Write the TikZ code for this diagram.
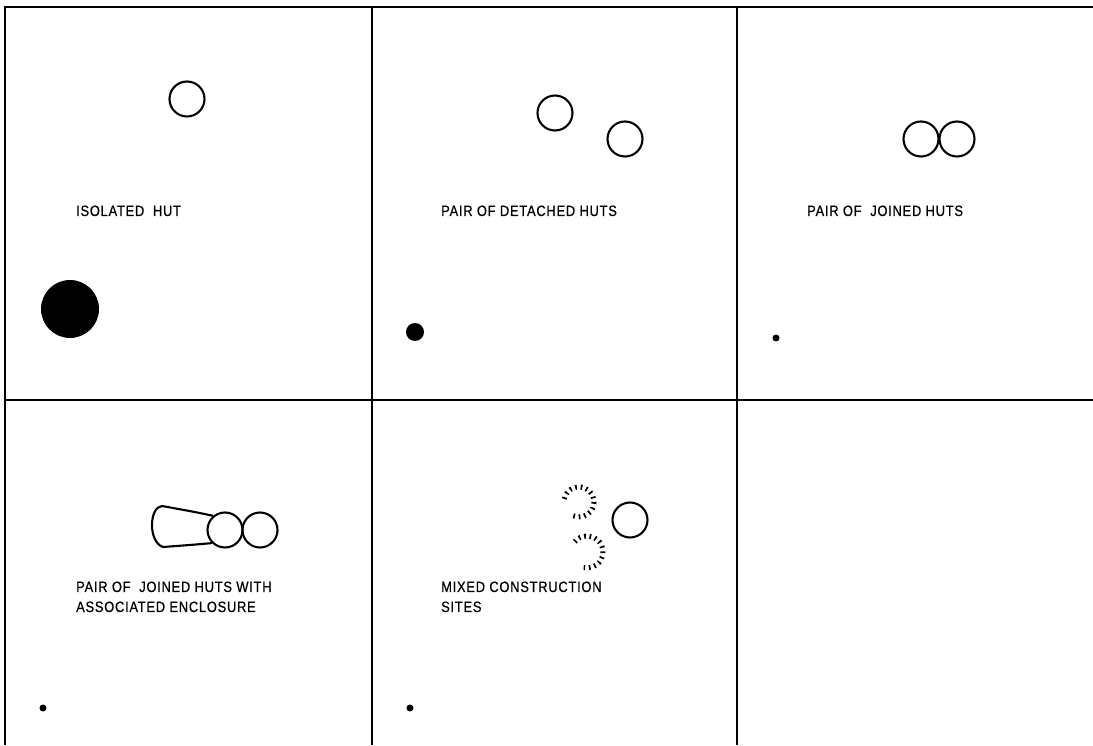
\documentclass[tikz,border=0pt]{standalone}
\usepackage{fontspec}
\setmainfont{Liberation Sans}
\newfontfamily\labelfont[LetterSpace=5,FakeStretch=0.86,FakeBold=0.6]{Liberation Sans}
\usetikzlibrary{calc}

\begin{document}
\begin{tikzpicture}[x=1pt,y=1pt,
frame/.style={line width=2.7pt,draw=black},
hut/.style={circle,draw=black,line width=2.1pt,minimum size=35pt,inner sep=0pt},
joined/.style={draw=black,line width=2.1pt},
spot/.style={circle,fill=black,inner sep=0pt,minimum size=#1},
site/.style={draw=black,line width=5pt,dash pattern=on 1.7pt off 3.8pt},
caption/.style={anchor=base west,align=left,inner sep=0pt,font=\labelfont\fontsize{15}{20}\selectfont}]
\useasboundingbox (0,0) rectangle (1093,745);
% panel grid, open at right and bottom
\coordinate (tl) at (5,738);
\coordinate (bl) at (5,0);
\coordinate (tr) at (1093,738);
\coordinate (ml) at (5,345);
\coordinate (mr) at (1093,345);
\coordinate (c1t) at (372,738);
\coordinate (c1b) at (372,0);
\coordinate (c2t) at (737,738);
\coordinate (c2b) at (737,0);
\draw[frame] (bl)--(tl)--(tr);
\draw[frame] (ml)--(mr);
\draw[frame] (c1t)--(c1b);
\draw[frame] (c2t)--(c2b);
% isolated hut
\node[hut] (single) at (187,646) {};
\node[caption] (isolated) at (76,529) {ISOLATED\ \ HUT};
\node[spot=58pt] (bigspot) at (70,436) {};
% pair of detached huts
\node[hut] (detA) at (555,632) {};
\node[hut] (detB) at (625,606) {};
\node[caption] (detached) at (441,529) {PAIR OF DETACHED HUTS};
\node[spot=18pt] (midspot) at (415,413) {};
% pair of joined huts
\node[hut] (joinA) at (921,606) {};
\node[hut] (joinB) at (957,606) {};
\node[caption] (joinedtxt) at (807,529) {PAIR OF\ \ JOINED HUTS};
\node[spot=7pt] (smallspotA) at (776,407) {};
% joined huts with enclosure
\node[hut] (encA) at (225,215) {};
\node[hut] (encB) at (260,215) {};
\draw[joined] (encA.130) .. controls (195,233) .. (162,239)
  .. controls (149,238) and (148,203) .. (163,198) .. controls (190,200) .. (encA.225);
\node[caption] (enclosure) at (76,133) {PAIR OF\ \ JOINED HUTS WITH\\ASSOCIATED ENCLOSURE};
\node[spot=7pt] (smallspotB) at (43,37) {};
% mixed construction sites
\coordinate (siteA) at (579,243);
\coordinate (siteB) at (587,193);
\draw[site] ($(siteA)+(168:15)$) arc[start angle=168,end angle=-114,radius=15];
\draw[site] ($(siteB)+(140:16)$) arc[start angle=140,end angle=-102,radius=16];
\node[hut] (newhut) at (630,225) {};
\node[caption] (mixed) at (441,133) {MIXED CONSTRUCTION\\SITES};
\node[spot=7pt] (smallspotC) at (410,37) {};
\end{tikzpicture}
\end{document}
